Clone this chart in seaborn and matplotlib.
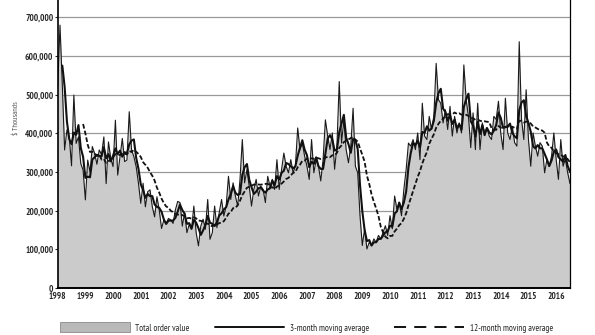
import numpy as np
import pandas as pd
import matplotlib
matplotlib.use("Agg")
import matplotlib.pyplot as plt
import seaborn as sns
from matplotlib.patches import Patch
from matplotlib.lines import Line2D
from matplotlib.ticker import FuncFormatter

# ---------------- data ($ thousands, monthly, Jan 1998 - Jul 2016) ----------------
start_year = 1998
order_value = [
    # 1998
    521, 680, 525, 357, 409, 391, 316, 499, 374, 391, 322, 305,
    # 1999
    228, 331, 300, 366, 348, 320, 357, 345, 391, 270, 378, 335,
    # 2000
    314, 434, 292, 340, 387, 327, 331, 456, 357, 340, 314, 271,
    # 2001
    219, 271, 210, 249, 254, 210, 184, 236, 202, 154, 176, 167,
    # 2002 Jan-May
    180, 176, 167, 202, 224,
    # Jun 2002 - Feb 2007
    221, 160, 195, 143, 165, 152, 212, 143, 109, 160,
    178, 152, 229, 126, 143, 212, 156, 195, 229, 186,
    212, 289, 229, 272, 238, 212, 281, 384, 272, 306,
    263, 212, 255, 281, 238, 263, 255, 221, 289, 263,
    281, 255, 332, 255, 306, 349, 315, 298, 332, 298,
    315, 414, 358, 375, 341, 315, 281,
    # Mar 2007 - Oct 2011
    384, 298, 332, 315, 277, 332, 435, 393, 358, 401,
    307, 367, 534, 375, 435, 358, 324, 367, 465, 315,
    298, 187, 110, 153, 101, 118, 110, 127, 118, 136,
    127, 144, 161, 136, 187, 153, 238, 204, 221, 187,
    255, 307, 375, 367, 384, 358, 401, 332, 478, 393,
    384, 444, 410, 444, 581, 487,
    # Nov 2011 - Jul 2016
    478, 427, 461, 410, 470, 393, 444, 401, 427, 401,
    577, 487, 444, 363, 453, 358, 478, 358, 427, 401,
    414, 393, 384, 444, 436, 483, 401, 358, 491, 401,
    384, 418, 376, 367, 637, 436, 384, 513, 384, 315,
    401, 367, 341, 376, 367, 298, 333, 315, 341, 401,
    333, 281, 384, 315, 333, 298, 270,
]
year_ticks = list(range(1998, 2017))
value_ticks = [0, 100, 200, 300, 400, 500, 600, 700]
legend_labels = ["Total order value", "3-month moving average", "12-month moving average"]
y_label = "$ Thousands"

# ---------------- build frame ----------------
n = len(order_value)
df = pd.DataFrame({
    "year": start_year + np.arange(n) / 12.0,
    "value": order_value,
})
df["ma3"] = df["value"].rolling(3).mean()
df["ma12"] = df["value"].rolling(12).mean()

# ---------------- style ----------------
sns.set_style("white")
plt.rcParams["font.family"] = ["PT Sans Narrow", "DejaVu Sans"]

W, H = 595, 335
fig = plt.figure(figsize=(W / 100, H / 100), dpi=100)
left, right, bottom, top = 57.7, 570.0, 288.0, 0.0
ax = fig.add_axes([left / W, 1 - bottom / H, (right - left) / W, (bottom - top) / H])

fill_col = "#cbcbcb"
ax.fill_between(df["year"], 0, df["value"], color=fill_col, lw=0, zorder=2)
sns.lineplot(data=df, x="year", y="value", color="#1a1a1a", lw=0.8, ax=ax, zorder=3)
sns.lineplot(data=df, x="year", y="ma3", color="#111111", lw=1.5, ax=ax, zorder=4)
sns.lineplot(data=df, x="year", y="ma12", color="#111111", lw=1.3,
             linestyle=(0, (2.6, 1.2)), ax=ax, zorder=5)

ax.set_xlim(start_year, df["year"].iloc[-1])
ax.set_ylim(0, 745)
ax.set_xticks(year_ticks)
ax.set_xticklabels([str(y) for y in year_ticks], fontsize=6.6, fontweight="bold")
ax.set_yticks(value_ticks)
ax.yaxis.set_major_formatter(FuncFormatter(lambda v, p: f"{int(v * 1000):,}"))
for lab in ax.get_yticklabels():
    lab.set_fontsize(6.6)
    lab.set_fontweight("bold")
ax.tick_params(axis="x", length=0, pad=3)
ax.tick_params(axis="y", length=2.2, width=0.8, pad=1, left=True)
ax.set_xlabel("")
ax.set_ylabel("")

ax.set_axisbelow(True)
for v in value_ticks[1:]:
    ax.axhline(v, color="#999999", lw=0.9, zorder=1)

ax.spines["top"].set_visible(False)
ax.spines["left"].set_color("black")
ax.spines["left"].set_linewidth(1.2)
ax.spines["right"].set_color("black")
ax.spines["right"].set_linewidth(0.9)
ax.spines["bottom"].set_color("black")
ax.spines["bottom"].set_linewidth(1.4)
for s in ax.spines.values():
    s.set_zorder(6)

fig.text(17 / W, 1 - 118 / H, y_label, rotation=90, color="#555555",
         fontsize=5.6, ha="center", va="center")

handles = [
    Patch(facecolor="#b9b9b9", edgecolor="#8a8a8a", linewidth=0.6),
    Line2D([], [], color="#111111", lw=1.4),
    Line2D([], [], color="#111111", lw=1.4, linestyle=(0, (6.2, 4.2))),
]
fig.legend(handles, legend_labels, loc="center left",
           bbox_to_anchor=(60 / W, 1 - 327.5 / H), ncol=3, frameon=False,
           fontsize=6.6, handlelength=7.6, handleheight=1.3,
           handletextpad=0.6, columnspacing=2.75, borderpad=0, borderaxespad=0)

fig.savefig("out.png", dpi=100)
